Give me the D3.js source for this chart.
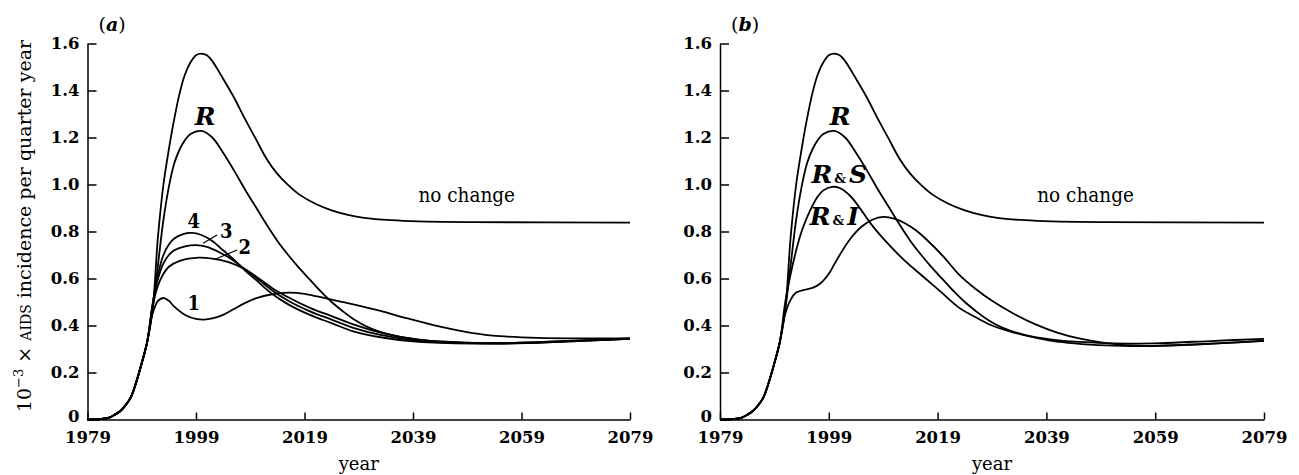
<!DOCTYPE html>
<meta charset="utf-8">
<style>
body { margin: 0; background: #fff; }
svg { display: block; }
.axis path, .axis line { stroke: #000; stroke-width: 1.5; }
.axis text {
  font-family: "DejaVu Serif", serif;
  font-weight: bold;
  font-size: 16.5px;
  fill: #000;
}
.curve { fill: none; stroke: #000; stroke-width: 1.8; }
.lab { font-family: "DejaVu Serif", serif; fill: #000; }
</style>
<svg width="1299" height="475"></svg>
<script src="https://d3js.org/d3.v7.min.js"></script>
<script>
// year / incidence (x 10^3 per quarter year) pairs
var noChange = [[1979,0],[1981,0.001],[1983,0.008],[1984,0.02],[1985,0.035],[1986,0.06],[1987,0.095],[1988,0.16],[1989,0.24],[1990,0.33],
  [1991,0.47],[1992,0.78],[1993,1.00],[1994,1.15],[1995,1.28],[1996,1.39],[1997,1.47],[1998,1.52],[1999,1.55],[2000,1.557],
  [2001,1.55],[2002,1.525],[2004,1.45],[2006,1.37],[2008,1.28],[2010,1.195],[2012,1.11],[2014,1.045],[2016,0.997],[2018,0.958],
  [2021,0.918],[2024,0.89],[2027,0.871],[2030,0.858],[2035,0.848],[2040,0.843],[2050,0.84],[2079,0.838]];

var restrict = [[1979,0],[1981,0.001],[1983,0.008],[1984,0.02],[1985,0.035],[1986,0.06],[1987,0.095],[1988,0.16],[1989,0.24],[1990,0.33],
  [1991,0.47],[1992,0.66],[1993,0.85],[1994,0.99],[1995,1.09],[1996,1.15],[1997,1.19],[1998,1.215],[2000,1.228],[2002,1.20],
  [2004,1.135],[2006,1.06],[2008,0.98],[2010,0.905],[2012,0.83],[2014,0.76],[2016,0.70],[2018,0.645],[2020,0.595],[2022,0.545],
  [2024,0.50],[2026,0.462],[2028,0.428],[2031,0.39],[2035,0.36],[2040,0.34],[2045,0.33],[2050,0.325],[2055,0.323],[2060,0.325],
  [2070,0.335],[2079,0.343]];

var scen1 = [[1979,0],[1981,0.001],[1983,0.008],[1984,0.02],[1985,0.035],[1986,0.06],[1987,0.095],[1988,0.16],[1989,0.24],[1990,0.33],
  [1991,0.45],[1992,0.505],[1993,0.517],[1994,0.505],[1995,0.48],[1997,0.445],[1999,0.428],[2000.5,0.425],[2002,0.43],[2004,0.445],
  [2006,0.47],[2008,0.495],[2010,0.515],[2013,0.533],[2016,0.54],[2019,0.535],[2023,0.515],[2028,0.49],[2033,0.462],[2038,0.43],
  [2044,0.395],[2050,0.368],[2055,0.355],[2062,0.347],[2070,0.345],[2079,0.345]];

var scen2 = [[1979,0],[1981,0.001],[1983,0.008],[1984,0.02],[1985,0.035],[1986,0.06],[1987,0.095],[1988,0.16],[1989,0.24],[1990,0.33],
  [1991,0.48],[1992,0.57],[1993,0.62],[1994,0.65],[1996,0.675],[1999.5,0.689],[2002,0.685],[2005,0.67],[2008,0.64],[2010,0.61],
  [2013,0.56],[2016,0.52],[2020,0.475],[2024,0.44],[2028,0.405],[2033,0.37],[2040,0.34],[2046,0.33],[2055,0.325],[2065,0.332],
  [2079,0.345]];

var scen3 = [[1979,0],[1981,0.001],[1983,0.008],[1984,0.02],[1985,0.035],[1986,0.06],[1987,0.095],[1988,0.16],[1989,0.24],[1990,0.33],
  [1991,0.49],[1992,0.60],[1993,0.665],[1994,0.70],[1995,0.72],[1997,0.737],[1999,0.742],[2001,0.735],[2003,0.715],[2005,0.69],
  [2008,0.64],[2010,0.605],[2013,0.55],[2016,0.505],[2020,0.46],[2024,0.425],[2028,0.39],[2033,0.36],[2040,0.335],[2050,0.325],
  [2060,0.328],[2070,0.336],[2079,0.344]];

var scen4 = [[1979,0],[1981,0.001],[1983,0.008],[1984,0.02],[1985,0.035],[1986,0.06],[1987,0.095],[1988,0.16],[1989,0.24],[1990,0.33],
  [1991,0.49],[1992,0.62],[1993,0.70],[1994,0.745],[1995,0.77],[1996.5,0.788],[1998.2,0.794],[2000,0.785],[2002,0.76],[2004,0.72],
  [2006,0.68],[2008,0.635],[2010,0.595],[2013,0.535],[2016,0.49],[2020,0.445],[2024,0.41],[2028,0.375],[2033,0.35],[2040,0.33],
  [2050,0.323],[2060,0.326],[2070,0.335],[2079,0.343]];

var restrictScreen = [[1979,0],[1981,0.001],[1983,0.008],[1984,0.02],[1985,0.035],[1986,0.06],[1987,0.095],[1988,0.16],[1989,0.24],[1990,0.33],
  [1991,0.50],[1992,0.62],[1993,0.72],[1994,0.80],[1995,0.86],[1996,0.91],[1997,0.95],[1998,0.975],[1999.6,0.99],[2001,0.985],
  [2003,0.95],[2005,0.89],[2007,0.825],[2010,0.745],[2013,0.675],[2016,0.615],[2019.5,0.545],[2023,0.475],[2026,0.435],[2029,0.40],
  [2033,0.37],[2040,0.335],[2050,0.315],[2057,0.312],[2065,0.318],[2079,0.335]];

var restrictIsolate = [[1979,0],[1981,0.001],[1983,0.008],[1984,0.02],[1985,0.035],[1986,0.06],[1987,0.095],[1988,0.16],[1989,0.24],[1990,0.33],
  [1991,0.45],[1992,0.51],[1993,0.54],[1994.5,0.552],[1996,0.56],[1997.5,0.58],[1999,0.62],[2000,0.66],[2001,0.70],[2003,0.77],
  [2005,0.82],[2007,0.85],[2009,0.862],[2011,0.855],[2013,0.835],[2015,0.805],[2017,0.765],[2020,0.695],[2023,0.615],[2026,0.555],
  [2029,0.505],[2033,0.45],[2037,0.405],[2041,0.37],[2045,0.345],[2050,0.325],[2057,0.313],[2065,0.318],[2079,0.335]];

var yearTicks = [1979, 1999, 2019, 2039, 2059, 2079];
var valueTicks = [0, 0.2, 0.4, 0.6, 0.8, 1.0, 1.2, 1.4, 1.6];

var svg = d3.select("svg");

var y = d3.scaleLinear().domain([0, 1.6]).range([419.5, 43.5]);
var xa = d3.scaleLinear().domain([1979, 2079]).range([87.5, 630]);
var xb = d3.scaleLinear().domain([1979, 2079]).range([720, 1264]);

var fmt = function(d) { return d === 0 ? "0" : d3.format(".1f")(d); };

function drawPanel(x, series, tag) {
  var g = svg.append("g");

  g.append("g")
      .attr("class", "axis")
      .attr("transform", "translate(0," + y(0) + ")")
      .call(d3.axisBottom(x).tickValues(yearTicks).tickFormat(d3.format("d"))
        .tickSizeInner(-7).tickSizeOuter(0).tickPadding(12));

  var ya = g.append("g")
      .attr("class", "axis")
      .attr("transform", "translate(" + x(1979) + ",0)")
      .call(d3.axisLeft(y).tickValues(valueTicks).tickFormat(fmt)
        .tickSizeInner(-9).tickSizeOuter(0).tickPadding(8));
  // lift the zero a touch so it clears the year labels
  ya.selectAll(".tick text").filter(function(d) { return d === 0; }).attr("dy", "0.15em");

  var line = d3.line()
      .x(function(d) { return x(d[0]); })
      .y(function(d) { return y(d[1]); })
      .curve(d3.curveCatmullRom.alpha(0.5));

  g.selectAll(".curve")
      .data(series)
    .enter().append("path")
      .attr("class", "curve")
      .attr("d", line);

  // panel tag (a)/(b)
  var t = g.append("text").attr("class", "lab")
      .attr("x", x(1979) + 11).attr("y", 31)
      .style("font-size", "19px");
  t.append("tspan").text("(");
  t.append("tspan").text(tag).style("font-style", "italic").style("font-weight", "bold");
  t.append("tspan").text(")");

  // x axis title
  g.append("text").attr("class", "lab")
      .attr("x", (x.range()[0] + x.range()[1]) / 2)
      .attr("y", 470)
      .attr("text-anchor", "middle")
      .style("font-size", "18px")
      .text("year");

  // no change label
  g.append("text").attr("class", "lab")
      .attr("x", x(tag === "a" ? 2048.9 : 2046.2))
      .attr("y", y(0.925))
      .attr("text-anchor", "middle")
      .style("font-size", "20.5px")
      .style("font-stretch", "condensed")
      .text("no change");

  // R label
  g.append("text").attr("class", "lab")
      .attr("x", x(tag === "a" ? 2000.7 : 2001.1))
      .attr("y", y(1.255))
      .attr("text-anchor", "middle")
      .style("font-size", "25px")
      .style("font-style", "italic")
      .style("font-weight", "bold")
      .text("R");

  return g;
}

var ga = drawPanel(xa, [noChange, restrict, scen1, scen2, scen3, scen4], "a");
var gb = drawPanel(xb, [noChange, restrict, restrictScreen, restrictIsolate], "b");

// numbered scenario labels in (a)
var numLabels = [["4", 1998.6, 0.815], ["3", 2004.6, 0.772], ["2", 2008.0, 0.706], ["1", 1998.6, 0.466]];
ga.selectAll(".num")
    .data(numLabels)
  .enter().append("text")
    .attr("class", "lab num")
    .attr("x", function(d) { return xa(d[1]); })
    .attr("y", function(d) { return y(d[2]); })
    .attr("text-anchor", "middle")
    .style("font-size", "20px")
    .style("font-weight", "bold")
    .style("font-stretch", "condensed")
    .text(function(d) { return d[0]; });

var leaders = [[[2000.3, 0.75], [2002.9, 0.785]], [[2002.5, 0.682], [2006.6, 0.721]]];
ga.selectAll(".leader")
    .data(leaders)
  .enter().append("line")
    .attr("x1", function(d) { return xa(d[0][0]); })
    .attr("y1", function(d) { return y(d[0][1]); })
    .attr("x2", function(d) { return xa(d[1][0]); })
    .attr("y2", function(d) { return y(d[1][1]); })
    .attr("stroke", "#000").attr("stroke-width", 1.2);

// R & S, R & I labels in (b)
[["S", 1995.8, 1.005], ["I", 1995.5, 0.828]].forEach(function(d) {
  var t = gb.append("text").attr("class", "lab")
      .attr("x", xb(d[1])).attr("y", y(d[2]))
      .style("font-weight", "bold");
  t.append("tspan").text("R").style("font-style", "italic").style("font-size", "25px");
  t.append("tspan").text("&").style("font-size", "13px").attr("dx", 2);
  t.append("tspan").text(d[0]).style("font-style", "italic").style("font-size", "25px").attr("dx", 3);
});

// y axis title
var yt = svg.append("text").attr("class", "lab")
    .attr("transform", "translate(31," + 226 + ") rotate(-90)")
    .attr("text-anchor", "middle")
    .style("font-size", "19px");
yt.append("tspan").text("10");
yt.append("tspan").text("\u22123").style("font-size", "13px").attr("dy", -8);
yt.append("tspan").text(" \u00d7 ").attr("dy", 8);
yt.append("tspan").text("AIDS").style("font-size", "14px");
yt.append("tspan").text(" incidence per quarter year");
</script>
